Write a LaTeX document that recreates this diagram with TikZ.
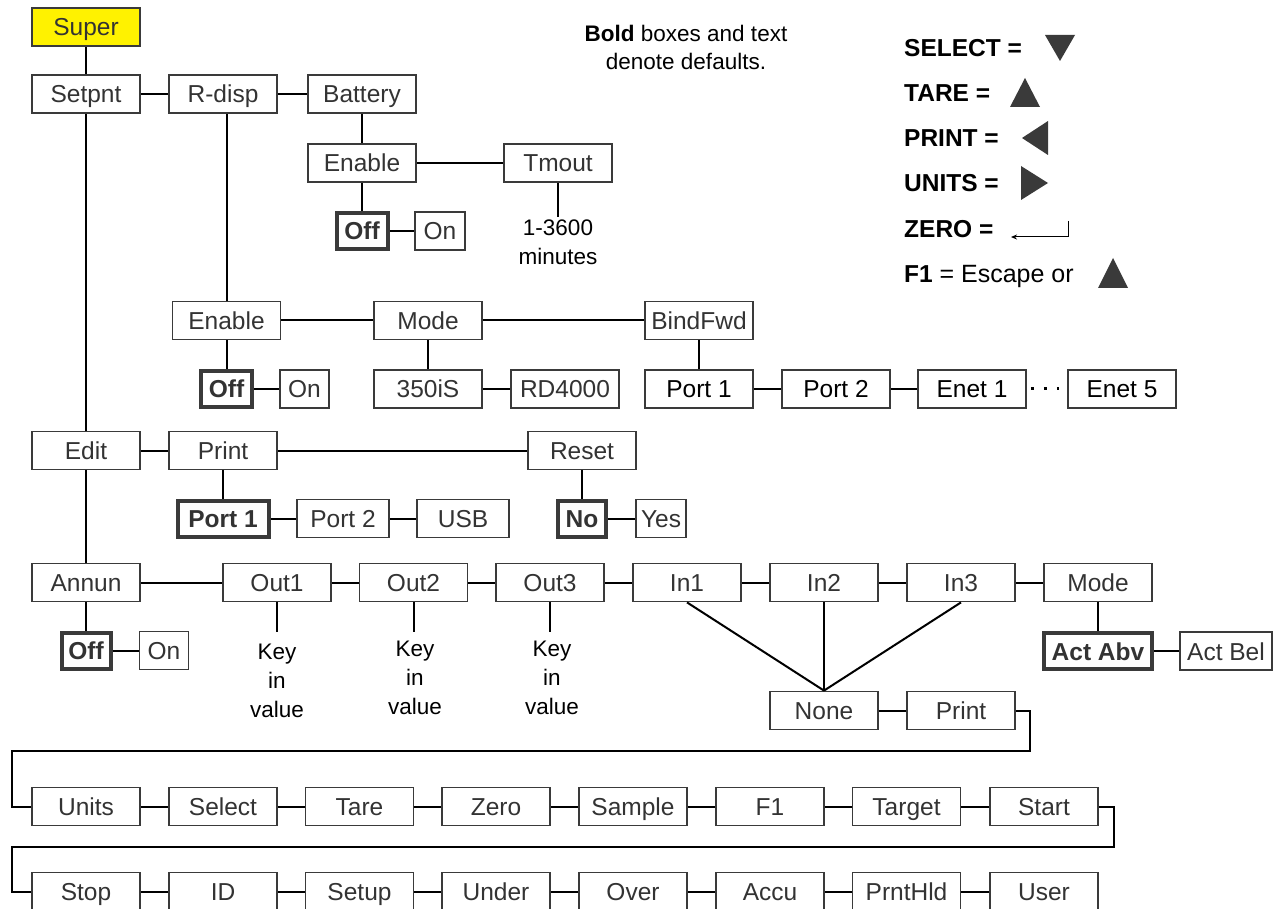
\documentclass[tikz,border=0pt]{standalone}
\usepackage{fontspec}
\setmainfont{Liberation Sans}
\usetikzlibrary{arrows.meta}
\definecolor{bc}{HTML}{3A3A3A}
\definecolor{tc}{HTML}{333333}
\definecolor{sy}{HTML}{FFF200}
\begin{document}
\begin{tikzpicture}[x=1pt,y=-1pt,
  box/.style={draw=bc,line width=1.8pt,fill=white,minimum width=108pt,minimum height=38pt,inner sep=0pt,text height=18pt,text depth=0pt,text=tc,font=\fontsize{24.5}{28}\selectfont},
  bbox/.style={box,line width=4pt,minimum height=36pt,font=\fontsize{24.5}{28}\selectfont\bfseries},
  conn/.style={line width=2pt,black},
  lbl/.style={align=center,inner sep=0pt,text=black,font=\fontsize{22.5}{29}\selectfont},
  leg/.style={anchor=base west,inner sep=0pt,font=\fontsize{24.5}{28}\selectfont\bfseries},
  tri/.style={fill=bc,draw=none}]
\fill[white] (0,0) rectangle (1278,909);
\useasboundingbox (0,0) rectangle (1278,909);

% legend / note
\node[lbl,font=\fontsize{22.5}{28}\selectfont] (note) at (686,47) {\textbf{Bold} boxes and text\\denote defaults.};
\node[leg] (lsel) at (904,57) {SELECT =};
\node[leg] (ltar) at (904,102) {TARE =};
\node[leg] (lpri) at (904,147) {PRINT =};
\node[leg] (luni) at (904,192) {UNITS =};
\node[leg] (lzer) at (904,238) {ZERO =};
\node[leg] (lf1) at (904,283) {F1 \mdseries\fontsize{25}{28}\selectfont= Escape or};
\fill[tri] (1045,35) -- (1075,35) -- (1060,61) -- cycle;
\fill[tri] (1010,107) -- (1040,107) -- (1025,78) -- cycle;
\fill[tri] (1022,138) -- (1048,121) -- (1048,155) -- cycle;
\fill[tri] (1021,166) -- (1021,200) -- (1048,183) -- cycle;
\draw[line width=1pt,-{Stealth[length=6pt,width=5pt]}] (1068,221) -- (1068,237) -- (1011,237);
\fill[tri] (1098,288) -- (1128,288) -- (1113,258) -- cycle;

% top branch
\node[box,fill=sy] (super) at (86,27) {Super};
\node[box] (setpnt) at (86,94) {Setpnt};
\node[box] (rdisp) at (223,94) {R-disp};
\node[box] (battery) at (362,94) {Battery};
\node[box] (ben) at (362,163) {Enable};
\node[box] (tmout) at (558,163) {Tmout};
\node[bbox,minimum width=51pt] (boff) at (362,231) {Off};
\node[box,minimum width=50pt] (bon) at (440,231) {On};
\node[lbl] (tmtxt) at (558,242) {1-3600\\minutes};
\coordinate (tmend) at (558,217);

\draw[conn] (super) -- (setpnt);
\draw[conn] (setpnt) -- (rdisp);
\draw[conn] (rdisp) -- (battery);
\draw[conn] (battery) -- (ben);
\draw[conn] (ben) -- (tmout);
\draw[conn] (ben.south) -- (boff.north);
\draw[conn] (boff) -- (bon);
\draw[conn] (tmout.south) -- (tmend);

% R-disp branch
\node[box] (ren) at (226.5,320.5) {Enable};
\node[box] (rmode) at (428,320.5) {Mode};
\node[box] (bind) at (699,320.5) {BindFwd};
\node[bbox,minimum width=51pt] (roff) at (226.5,389) {Off};
\node[box,minimum width=49pt] (ron) at (304.5,389) {On};
\node[box] (r350) at (428,389) {350iS};
\node[box] (rd4) at (565,389) {RD4000};
\node[box,text=black] (bp1) at (699,389) {Port 1};
\node[box,text=black] (bp2) at (836,389) {Port 2};
\node[box,text=black] (be1) at (972,389) {Enet 1};
\node[box,text=black] (be5) at (1122,389) {Enet 5};

\draw[conn] (ren.north |- rdisp.south) -- (ren.north);
\draw[conn] (ren) -- (rmode);
\draw[conn] (rmode) -- (bind);
\draw[conn] (ren.south) -- (roff.north);
\draw[conn] (roff) -- (ron);
\draw[conn] (rmode.south) -- (r350.north);
\draw[conn] (r350) -- (rd4);
\draw[conn] (bind.south) -- (bp1.north);
\draw[conn] (bp1) -- (bp2);
\draw[conn] (bp2) -- (be1);
\draw[line width=3pt,dash pattern=on 3pt off 10pt,shorten <=4pt,shorten >=8pt] (be1.east) -- (be5.west);

% Edit branch
\node[box] (edit) at (86,450.5) {Edit};
\node[box] (eprint) at (223,450.5) {Print};
\node[box] (reset) at (582,450.5) {Reset};
\node[bbox,minimum width=91pt] (ep1) at (223,518.5) {Port 1};
\node[box,minimum width=92pt] (ep2) at (343,518.5) {Port 2};
\node[box,minimum width=92pt] (eusb) at (463,518.5) {USB};
\node[bbox,minimum width=48pt] (no) at (582,518.5) {No};
\node[box,minimum width=50pt] (yes) at (661,518.5) {Yes};

\draw[conn] (setpnt) -- (edit);
\draw[conn] (edit) -- (eprint);
\draw[conn] (eprint) -- (reset);
\draw[conn] (eprint.south) -- (ep1.north);
\draw[conn] (ep1) -- (ep2);
\draw[conn] (ep2) -- (eusb);
\draw[conn] (reset.south) -- (no.north);
\draw[conn] (no) -- (yes);

% Annun branch
\node[box] (annun) at (86,582.5) {Annun};
\node[box] (out1) at (277,582.5) {Out1};
\node[box] (out2) at (413.5,582.5) {Out2};
\node[box] (out3) at (550,582.5) {Out3};
\node[box] (in1) at (687,582.5) {In1};
\node[box] (in2) at (824,582.5) {In2};
\node[box] (in3) at (961,582.5) {In3};
\node[box] (amode) at (1098,582.5) {Mode};
\node[bbox,minimum width=49pt] (aoff) at (86,650.5) {Off};
\node[box,minimum width=49pt] (aon) at (164,650.5) {On};
\node[bbox,minimum width=108pt] (actabv) at (1098,651) {Act Abv};
\node[box,minimum width=92pt] (actbel) at (1226,651) {Act Bel};
\node[box] (none) at (824,710.5) {None};
\node[box] (iprint) at (961,710.5) {Print};
\node[lbl] (k1) at (277,681) {Key\\in\\value};
\node[lbl] (k2) at (415,678) {Key\\in\\value};
\node[lbl] (k3) at (552,678) {Key\\in\\value};
\coordinate (k1t) at (277,632);
\coordinate (k2t) at (413.5,632);
\coordinate (k3t) at (550,632);

\draw[conn] (edit) -- (annun);
\draw[conn] (annun) -- (out1);
\draw[conn] (out1) -- (out2);
\draw[conn] (out2) -- (out3);
\draw[conn] (out3) -- (in1);
\draw[conn] (in1) -- (in2);
\draw[conn] (in2) -- (in3);
\draw[conn] (in3) -- (amode);
\draw[conn] (annun.south) -- (aoff.north);
\draw[conn] (aoff) -- (aon);
\draw[conn] (out1.south) -- (k1t);
\draw[conn] (out2.south) -- (k2t);
\draw[conn] (out3.south) -- (k3t);
\draw[conn] (in1.south) -- (none.north);
\draw[conn] (in2.south) -- (none.north);
\draw[conn] (in3.south) -- (none.north);
\draw[conn] (amode.south) -- (actabv.north);
\draw[conn] (actabv) -- (actbel);
\draw[conn] (none) -- (iprint);

% Units row
\node[box] (units) at (86,806.5) {Units};
\node[box] (select) at (223,806.5) {Select};
\node[box] (tare) at (359.5,806.5) {Tare};
\node[box] (zero) at (496,806.5) {Zero};
\node[box] (sample) at (633,806.5) {Sample};
\node[box] (f1) at (770,806.5) {F1};
\node[box] (target) at (906.5,806.5) {Target};
\node[box] (start) at (1044,806.5) {Start};

\draw[conn] (iprint.east) -- (1030,710.5) -- (1030,751) -- (12,751) -- (12,806.5) -- (units.west);
\draw[conn] (units) -- (select);
\draw[conn] (select) -- (tare);
\draw[conn] (tare) -- (zero);
\draw[conn] (zero) -- (sample);
\draw[conn] (sample) -- (f1);
\draw[conn] (f1) -- (target);
\draw[conn] (target) -- (start);

% Stop row
\node[box] (stop) at (86,891.5) {Stop};
\node[box] (id) at (223,891.5) {ID};
\node[box] (setup) at (359.5,891.5) {Setup};
\node[box] (under) at (496,891.5) {Under};
\node[box] (over) at (633,891.5) {Over};
\node[box] (accu) at (770,891.5) {Accu};
\node[box] (prnthld) at (906.5,891.5) {PrntHld};
\node[box] (user) at (1044,891.5) {User};

\draw[conn] (start.east) -- (1114,806.5) -- (1114,847) -- (12,847) -- (12,891.5) -- (stop.west);
\draw[conn] (stop) -- (id);
\draw[conn] (id) -- (setup);
\draw[conn] (setup) -- (under);
\draw[conn] (under) -- (over);
\draw[conn] (over) -- (accu);
\draw[conn] (accu) -- (prnthld);
\draw[conn] (prnthld) -- (user);
\end{tikzpicture}
\end{document}
